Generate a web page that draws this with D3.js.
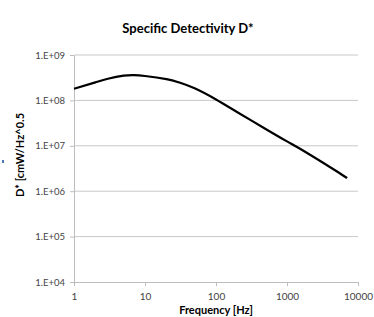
<!DOCTYPE html>
<html>
<head>
<meta charset="utf-8">
<script src="https://cdn.jsdelivr.net/npm/d3@7"></script>
<style>
  body { margin: 0; background: #fff; }
  text { font-family: Lato, "Open Sans", sans-serif; }
</style>
</head>
<body>
<div id="chart"></div>
<script>
// frequency [Hz] and D* values
var freq = [1, 2, 3, 5, 7, 10, 20, 30, 50, 100, 200, 500, 1000, 2000, 5000, 7000];
var dstar = [1.8e8, 2.5e8, 3.0e8, 3.5e8, 3.6e8, 3.45e8, 2.95e8, 2.5e8, 1.85e8, 1.05e8, 5.5e7, 2.35e7, 1.25e7, 6.7e6, 2.75e6, 1.95e6];
var xTicks = [1, 10, 100, 1000, 10000];
var yTicks = [1e4, 1e5, 1e6, 1e7, 1e8, 1e9];
var yTickLabels = ["1.E+04", "1.E+05", "1.E+06", "1.E+07", "1.E+08", "1.E+09"];

var width = 374, height = 317;
var svg = d3.select("#chart").append("svg").attr("width", width).attr("height", height);

var x = d3.scaleLog().domain([1, 10000]).range([74, 358]);
var y = d3.scaleLog().domain([1e4, 1e9]).range([282, 55]);

// gridlines
svg.append("g")
    .selectAll("line")
    .data(yTicks.slice(1))
    .enter().append("line")
    .attr("x1", x(1)).attr("x2", x(10000))
    .attr("y1", function(d) { return y(d); })
    .attr("y2", function(d) { return y(d); })
    .attr("stroke", "#c8c8c8")
    .attr("stroke-width", 1);

var xAxis = svg.append("g")
    .attr("transform", "translate(0," + y(1e4) + ")")
    .call(d3.axisBottom(x).tickValues(xTicks).tickFormat(d3.format("d")).tickSize(4).tickSizeOuter(0));
xAxis.select(".domain").attr("stroke", "#bdbdbd");
xAxis.selectAll(".tick line").attr("stroke", "#bdbdbd");
xAxis.selectAll("text").attr("fill", "#444").attr("font-size", 10).attr("dy", "1.1em");

var yAxis = svg.append("g")
    .attr("transform", "translate(" + x(1) + ",0)")
    .call(d3.axisLeft(y).tickValues(yTicks)
        .tickFormat(function(d, i) { return yTickLabels[i]; })
        .tickSize(4).tickSizeOuter(0));
yAxis.select(".domain").attr("stroke", "#bdbdbd");
yAxis.selectAll(".tick line").attr("stroke", "#bdbdbd");
yAxis.selectAll("text").attr("fill", "#444").attr("font-size", 9.5).attr("x", -9);

var pts = freq.map(function(f, i) { return [f, dstar[i]]; });
svg.append("path")
    .datum(pts)
    .attr("fill", "none")
    .attr("stroke", "#000")
    .attr("stroke-width", 2.2)
    .attr("stroke-linejoin", "round")
    .attr("d", d3.line()
        .x(function(d) { return x(d[0]); })
        .y(function(d) { return y(d[1]); })
        .curve(d3.curveNatural));

svg.append("text")
    .attr("x", 188).attr("y", 33)
    .attr("text-anchor", "middle")
    .attr("font-size", 13).attr("font-weight", "bold")
    .text("Specific Detectivity D*");

svg.append("text")
    .attr("transform", "translate(24,155) rotate(-90)")
    .attr("text-anchor", "middle")
    .attr("font-size", 11).attr("font-weight", "bold")
    .text("D* [cmW/Hz^0.5");

svg.append("rect")
    .attr("x", 2).attr("y", 160).attr("width", 2).attr("height", 3)
    .attr("fill", "#4a7ab5");

svg.append("text")
    .attr("x", 216).attr("y", 314)
    .attr("text-anchor", "middle")
    .attr("font-size", 11).attr("font-weight", "bold")
    .text("Frequency [Hz]");
</script>
</body>
</html>
